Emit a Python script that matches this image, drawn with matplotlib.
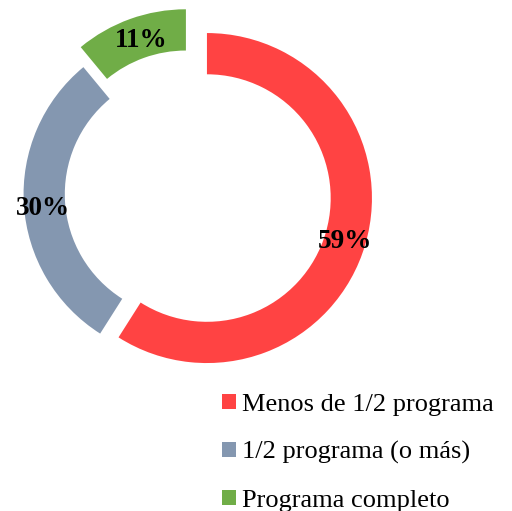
import matplotlib
matplotlib.use("Agg")
import matplotlib.pyplot as plt
from matplotlib.patches import Patch

categories = ["Menos de 1/2 programa", "1/2 programa (o más)", "Programa completo"]
values = [59, 30, 11]
labels = ["59%", "30%", "11%"]
colors = ["#FF4343", "#8497B0", "#70AD47"]

fig = plt.figure(figsize=(5.12, 5.11), dpi=100)
ax = fig.add_axes([0, 0, 1, 1])
R = 165.0
cx, cy = 193.0, 194.0

wedges, _ = ax.pie(values, colors=colors, startangle=90, counterclock=False,
                   radius=1.0, explode=[0.088, 0.027, 0.127],
                   wedgeprops=dict(width=0.25, edgecolor="none"))
ax.set_xlim(-cx / R, (512 - cx) / R)
ax.set_ylim(-(511 - cy) / R, cy / R)
ax.set_aspect("equal")
ax.axis("off")

# label anchor positions (pixels: centre x, baseline y)
label_px = [(345, 248), (43, 215), (141.5, 47)]
for lab, (px, py) in zip(labels, label_px):
    ax.text((px - cx) / R, (cy - py) / R, lab, ha="center", va="baseline",
            fontsize=19.5, fontweight="bold", family="Liberation Serif", color="black")

handles = [Patch(facecolor=c, edgecolor="none") for c in colors]
leg = fig.legend(handles, categories, loc="upper left", bbox_to_anchor=(222 / 512, 1 - 394 / 511),
                 frameon=False, prop=dict(family="Liberation Serif", size=19),
                 handlelength=0.53, handleheight=0.5, handletextpad=0.22, labelspacing=0.96,
                 borderaxespad=0.0, borderpad=0.0)

fig.savefig("out.png", dpi=100)
